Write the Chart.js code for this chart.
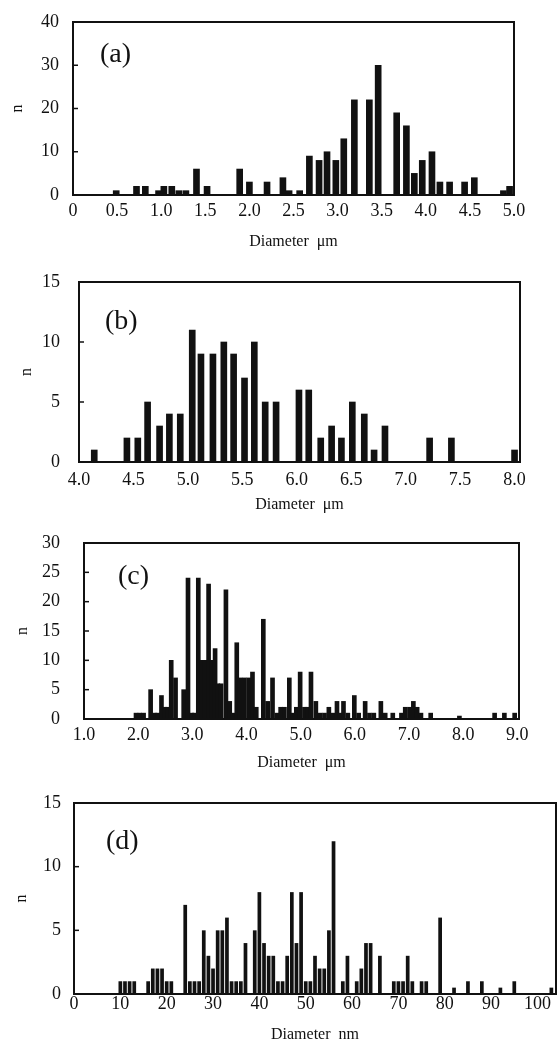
<!DOCTYPE html>
<html lang="en">
<head>
<meta charset="UTF-8">
<title>Diameter distributions</title>
<script src="https://cdn.jsdelivr.net/npm/chart.js"></script>
<style>
  html, body { margin: 0; padding: 0; background: #fff; overflow: hidden; }
  .panel { position: absolute; left: 0; width: 560px; }
</style>
</head>
<body>
<div class="panel" id="boxA"><canvas id="chartA"></canvas></div>
<div class="panel" id="boxB"><canvas id="chartB"></canvas></div>
<div class="panel" id="boxC"><canvas id="chartC"></canvas></div>
<div class="panel" id="boxD"><canvas id="chartD"></canvas></div>
<script>
// (a) diameter (um) vs count
const diamA = [0.49, 0.72, 0.82, 0.97, 1.03, 1.12, 1.20, 1.28, 1.40, 1.52, 1.89, 2.00, 2.20, 2.38, 2.45, 2.57,
  2.68, 2.79, 2.88, 2.98, 3.07, 3.19, 3.36, 3.46, 3.67, 3.78, 3.87, 3.96, 4.07, 4.16, 4.27, 4.44, 4.55, 4.88, 4.95];
const countA = [1, 2, 2, 1, 2, 2, 1, 1, 6, 2, 6, 3, 3, 4, 1, 1,
  9, 8, 10, 8, 13, 22, 22, 30, 19, 16, 5, 8, 10, 3, 3, 3, 4, 1, 2];
const xTicksA = [0, 0.5, 1, 1.5, 2, 2.5, 3, 3.5, 4, 4.5, 5];
const xLabelsA = ['0', '0.5', '1.0', '1.5', '2.0', '2.5', '3.0', '3.5', '4.0', '4.5', '5.0'];
const yTicksA = [0, 10, 20, 30, 40];

// (b)
const diamB = [4.14, 4.44, 4.54, 4.63, 4.74, 4.83, 4.93, 5.04, 5.12, 5.23, 5.33, 5.42, 5.52, 5.61, 5.71, 5.81,
  6.02, 6.11, 6.22, 6.32, 6.41, 6.51, 6.62, 6.71, 6.81, 7.22, 7.42, 8.00];
const countB = [1, 2, 2, 5, 3, 4, 4, 11, 9, 9, 10, 9, 7, 10, 5, 5,
  6, 6, 2, 3, 2, 5, 4, 1, 3, 2, 2, 1];
const xTicksB = [4, 4.5, 5, 5.5, 6, 6.5, 7, 7.5, 8];
const xLabelsB = ['4.0', '4.5', '5.0', '5.5', '6.0', '6.5', '7.0', '7.5', '8.0'];
const yTicksB = [0, 5, 10, 15];

// (c)
const diamC = [1.96, 2.03, 2.10, 2.23, 2.30, 2.36, 2.43, 2.49, 2.54, 2.61, 2.69, 2.84, 2.92, 2.99, 3.04,
  3.11, 3.17, 3.23, 3.30, 3.36, 3.42, 3.47, 3.53, 3.62, 3.69, 3.75, 3.82, 3.88, 3.96, 4.04, 4.11, 4.18,
  4.31, 4.39, 4.48, 4.56, 4.63, 4.70, 4.79, 4.86, 4.92, 4.99, 5.07, 5.13, 5.19, 5.28, 5.36, 5.44, 5.52,
  5.59, 5.67, 5.73, 5.79, 5.87, 5.99, 6.07, 6.19, 6.27, 6.35, 6.48, 6.56, 6.70, 6.86, 6.93, 7.01, 7.08,
  7.15, 7.22, 7.40, 7.93, 8.58, 8.76, 8.95];
const countC = [1, 1, 1, 5, 1, 1, 4, 2, 2, 10, 7, 5, 24, 1, 1,
  24, 10, 10, 23, 10, 12, 6, 6, 22, 3, 1, 13, 7, 7, 7, 8, 2,
  17, 3, 7, 1, 2, 2, 7, 1, 2, 8, 2, 2, 8, 3, 1, 1, 2,
  1, 3, 1, 3, 1, 4, 1, 3, 1, 1, 3, 1, 1, 1, 2, 2, 3,
  2, 1, 1, 0.5, 1, 1, 1];
const xTicksC = [1, 2, 3, 4, 5, 6, 7, 8, 9];
const xLabelsC = ['1.0', '2.0', '3.0', '4.0', '5.0', '6.0', '7.0', '8.0', '9.0'];
const yTicksC = [0, 5, 10, 15, 20, 25, 30];

// (d) diameter (nm) vs count
const diamD = [10, 11, 12, 13, 16, 17, 18, 19, 20, 21, 24, 25, 26, 27, 28, 29, 30, 31, 32, 33, 34, 35, 36, 37,
  39, 40, 41, 42, 43, 44, 45, 46, 47, 48, 49, 50, 51, 52, 53, 54, 55, 56, 58, 59, 61, 62, 63, 64, 66,
  69, 70, 71, 72, 73, 75, 76, 79, 82, 85, 88, 92, 95, 103];
const countD = [1, 1, 1, 1, 1, 2, 2, 2, 1, 1, 7, 1, 1, 1, 5, 3, 2, 5, 5, 6, 1, 1, 1, 4,
  5, 8, 4, 3, 3, 1, 1, 3, 8, 4, 8, 1, 1, 3, 2, 2, 5, 12, 1, 3, 1, 2, 4, 4, 3,
  1, 1, 1, 3, 1, 1, 1, 6, 0.5, 1, 1, 0.5, 1, 0.5];
const xTicksD = [0, 10, 20, 30, 40, 50, 60, 70, 80, 90, 100];
const xLabelsD = ['0', '10', '20', '30', '40', '50', '60', '70', '80', '90', '100'];
const yTicksD = [0, 5, 10, 15];

const SERIF = "'Liberation Serif', 'DejaVu Serif', serif";
const INK = '#111';
const PAGE_W = 560;

// frame box, inward y ticks and the panel tag
const panelDecor = {
  id: 'panelDecor',
  afterDatasetsDraw(chart, args, opts) {
    const { ctx, chartArea: a } = chart;
    const yScale = chart.scales.y;
    ctx.save();
    ctx.strokeStyle = INK;
    ctx.lineWidth = 2;
    ctx.strokeRect(a.left, a.top, a.right - a.left, a.bottom - a.top);
    ctx.lineWidth = 1.5;
    yScale.ticks.forEach(t => {
      const y = yScale.getPixelForValue(t.value);
      ctx.beginPath();
      ctx.moveTo(a.left, y);
      ctx.lineTo(a.left + 5, y);
      ctx.stroke();
    });
    ctx.fillStyle = INK;
    ctx.font = '28px ' + SERIF;
    ctx.textAlign = 'left';
    ctx.textBaseline = 'middle';
    ctx.fillText(opts.tag, opts.x, opts.y);
    ctx.restore();
  }
};

function drawPanel(p) {
  const box = document.getElementById(p.box);
  box.style.top = p.top + 'px';
  const canvas = document.getElementById(p.canvas);
  canvas.width = PAGE_W;
  canvas.height = p.height;
  const [left, top, right, bottom] = p.area;
  const tickFont = { family: SERIF, size: 18, lineHeight: 1.2 };
  const titleFont = { family: SERIF, size: 16, lineHeight: 1.2 };

  new Chart(canvas.getContext('2d'), {
    type: 'bar',
    data: {
      datasets: [{
        data: p.xs.map((x, i) => ({ x: x, y: p.ys[i] })),
        backgroundColor: INK,
        borderWidth: 0,
        barThickness: p.barPx,
        categoryPercentage: 1,
        barPercentage: 0.8
      }]
    },
    options: {
      responsive: false,
      animation: false,
      layout: { padding: { top: top - p.top, right: PAGE_W - right, left: 0, bottom: 0 } },
      plugins: {
        legend: { display: false },
        tooltip: { enabled: false },
        panelDecor: { tag: p.tag, x: p.tagX, y: p.tagY - p.top }
      },
      scales: {
        x: {
          type: 'linear',
          min: p.xMin,
          max: p.xMax,
          offset: false,
          grid: { display: false, drawTicks: false },
          border: { display: false },
          afterBuildTicks: s => { s.ticks = p.xTicks.map(v => ({ value: v })); },
          afterFit: s => {
            s.height = p.top + p.height - bottom;
            s.paddingLeft = 0;
            s.paddingRight = 0;
          },
          ticks: {
            autoSkip: false,
            maxRotation: 0,
            color: INK,
            font: tickFont,
            padding: p.xLabelY - bottom - 10.8,
            callback: (v, i) => p.xLabels[i]
          },
          title: {
            display: true,
            text: p.xTitle,
            color: INK,
            font: titleFont,
            padding: { top: 0, bottom: p.top + p.height - p.xTitleY - 9.6 }
          }
        },
        y: {
          min: 0,
          max: p.yTicks[p.yTicks.length - 1],
          grid: { display: false, drawTicks: false },
          border: { display: false },
          afterBuildTicks: s => { s.ticks = p.yTicks.map(v => ({ value: v })); },
          afterFit: s => {
            s.width = left;
            s.paddingTop = 0;
            s.paddingBottom = 0;
          },
          ticks: {
            color: INK,
            font: tickFont,
            padding: left - p.yLabelRight
          },
          title: {
            display: true,
            text: 'n',
            color: INK,
            font: titleFont,
            padding: { top: p.nX - 9.6, bottom: 0 }
          }
        }
      }
    },
    plugins: [panelDecor]
  });
}

drawPanel({
  box: 'boxA', canvas: 'chartA', top: 0, height: 255, area: [73, 22, 514, 195],
  xs: diamA, ys: countA, xTicks: xTicksA, xLabels: xLabelsA, yTicks: yTicksA,
  xMin: 0, xMax: 5, barPx: 6, xTitle: 'Diameter  \u03bcm', tag: '(a)',
  xLabelY: 211, xTitleY: 242, yLabelRight: 59, nX: 18, tagX: 100, tagY: 55
});
drawPanel({
  box: 'boxB', canvas: 'chartB', top: 255, height: 260, area: [79, 282, 520, 462],
  xs: diamB, ys: countB, xTicks: xTicksB, xLabels: xLabelsB, yTicks: yTicksB,
  xMin: 4, xMax: 8.05, barPx: 6, xTitle: 'Diameter  \u03bcm', tag: '(b)',
  xLabelY: 480, xTitleY: 505, yLabelRight: 60, nX: 27, tagX: 105, tagY: 322
});
drawPanel({
  box: 'boxC', canvas: 'chartC', top: 515, height: 260, area: [84, 543, 519, 719],
  xs: diamC, ys: countC, xTicks: xTicksC, xLabels: xLabelsC, yTicks: yTicksC,
  xMin: 1, xMax: 9.03, barPx: 4, xTitle: 'Diameter  \u03bcm', tag: '(c)',
  xLabelY: 735, xTitleY: 763, yLabelRight: 60, nX: 23, tagX: 118, tagY: 577
});
drawPanel({
  box: 'boxD', canvas: 'chartD', top: 775, height: 278, area: [74, 803, 556, 994],
  xs: diamD, ys: countD, xTicks: xTicksD, xLabels: xLabelsD, yTicks: yTicksD,
  xMin: 0, xMax: 104, barPx: undefined, xTitle: 'Diameter  nm', tag: '(d)',
  xLabelY: 1004, xTitleY: 1035, yLabelRight: 61, nX: 22, tagX: 106, tagY: 842
});
</script>
</body>
</html>
